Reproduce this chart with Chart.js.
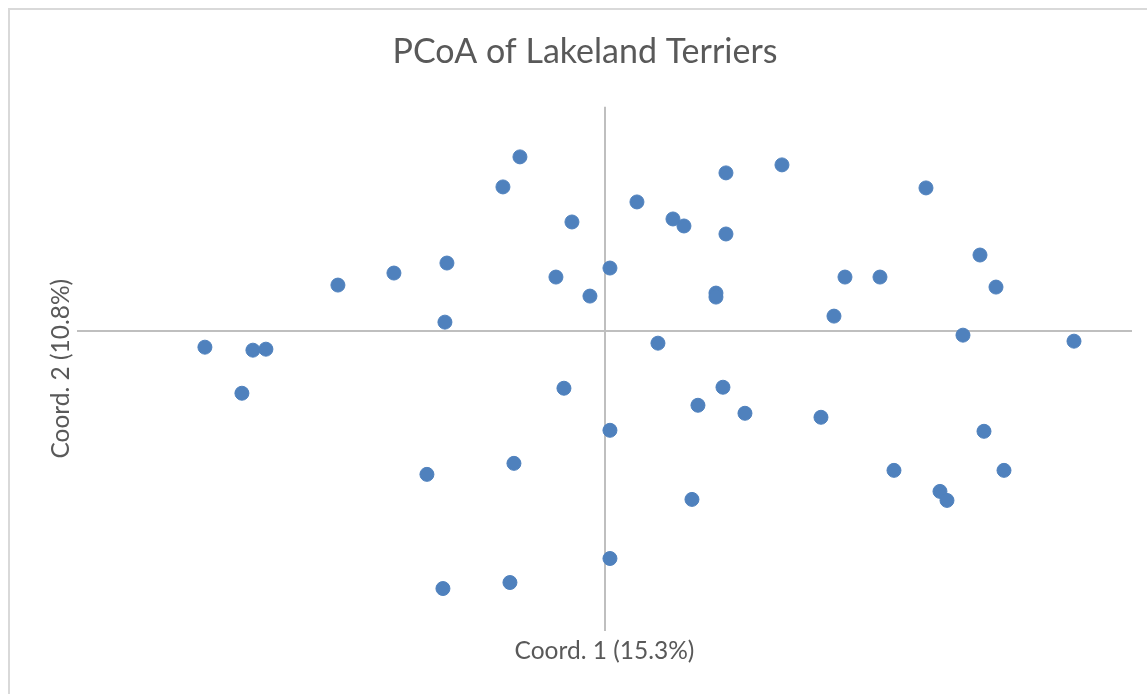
<!DOCTYPE html>
<html>
<head>
<meta charset="utf-8">
<script src="https://cdn.jsdelivr.net/npm/chart.js@4"></script>
<style>
  html, body { margin: 0; padding: 0; background: #fff; }
  #wrap { width: 1147px; height: 694px; }
</style>
</head>
<body>
<div id="wrap"><canvas id="grafico" width="1147" height="694"></canvas></div>
<script>
// coordenadas PCoA (eixo 1, eixo 2)
const coord1 = [
  -0.085, -0.102, 0.121, 0.177, 0.321, 0.032, -0.033, 0.068, 0.079, 0.121,
  0.375, -0.158, -0.211, -0.267, -0.049, 0.005, 0.240, 0.275, 0.391, -0.015,
  0.111, 0.111, -0.160, 0.229, 0.358, 0.469, 0.053, -0.400, -0.352, -0.339,
  -0.363, -0.041, 0.118, 0.093, 0.140, 0.216, 0.005, 0.379, -0.091, -0.178,
  0.289, 0.399, 0.335, 0.342, 0.087, 0.005, -0.095, -0.162
];
const coord2 = [
  0.174, 0.144, 0.158, 0.166, 0.143, 0.129, 0.109, 0.112, 0.105, 0.097,
  0.076, 0.068, 0.058, 0.046, 0.054, 0.063, 0.054, 0.054, 0.044, 0.035,
  0.038, 0.034, 0.009, 0.015, -0.004, -0.010, -0.012, -0.016, -0.019, -0.018,
  -0.062, -0.057, -0.056, -0.074, -0.082, -0.086, -0.099, -0.100, -0.132, -0.143,
  -0.139, -0.139, -0.160, -0.169, -0.168, -0.227, -0.251, -0.257
];
const rangeX = [-0.528, 0.527];
const rangeY = [-0.299, 0.224];

const pontos = coord1.map((x, i) => ({ x: x, y: coord2[i] }));

// moldura cinza do grafico (como no Excel)
const moldura = {
  id: "moldura",
  beforeDraw(chart) {
    const ctx = chart.ctx;
    ctx.save();
    ctx.strokeStyle = "#d9d9d9";
    ctx.lineWidth = 2;
    ctx.beginPath();
    ctx.moveTo(9, chart.height + 5);
    ctx.lineTo(9, 9);
    ctx.lineTo(chart.width + 5, 9);
    ctx.stroke();
    ctx.restore();
  }
};

// so uma linha de grade, no zero
function soZero(scale) {
  scale.ticks = [{ value: 0 }];
}

const graficoPCoA = new Chart(document.getElementById("grafico"), {
  type: "scatter",
  data: {
    datasets: [
      {
        label: "Lakeland Terriers",
        data: pontos,
        backgroundColor: "#4f81bd",
        borderColor: "#4f81bd",
        borderWidth: 1,
        pointRadius: 7,
        pointHoverRadius: 7,
      },
    ],
  },
  options: {
    responsive: false,
    animation: false,
    layout: {
      autoPadding: false,
      padding: { left: 38, right: 15, top: 10, bottom: 28 },
    },
    plugins: {
      legend: { display: false },
      tooltip: { enabled: false },
      title: {
        display: true,
        text: "PCoA of Lakeland Terriers",
        color: "#595959",
        font: { family: "Lato", size: 34, weight: "normal" },
        padding: { top: 22, bottom: 34 },
      },
    },
    scales: {
      x: {
        type: "linear",
        min: rangeX[0],
        max: rangeX[1],
        afterBuildTicks: soZero,
        ticks: { display: false },
        border: { display: false },
        grid: { color: "#bfbfbf", lineWidth: 2, drawTicks: false },
        title: {
          display: true,
          text: "Coord. 1 (15.3%)",
          color: "#595959",
          font: { family: "Lato", size: 24.5 },
          padding: { top: 6, bottom: 0 },
        },
      },
      y: {
        type: "linear",
        min: rangeY[0],
        max: rangeY[1],
        afterBuildTicks: soZero,
        ticks: { display: false },
        border: { display: false },
        grid: { color: "#bfbfbf", lineWidth: 2, drawTicks: false },
        title: {
          display: true,
          text: "Coord. 2 (10.8%)",
          color: "#595959",
          font: { family: "Lato", size: 24.5 },
          padding: { top: 8, bottom: 1.5 },
        },
      },
    },
  },
  plugins: [moldura],
});
</script>
</body>
</html>
